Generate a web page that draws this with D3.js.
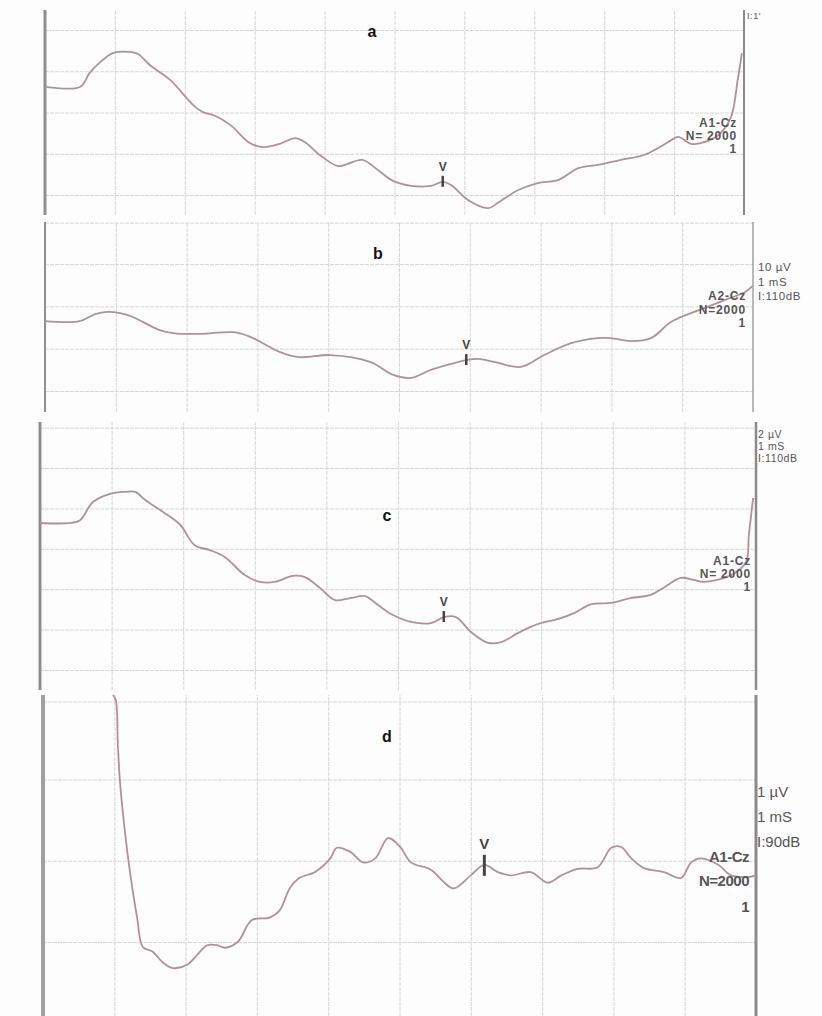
<!DOCTYPE html>
<html>
<head>
<meta charset="utf-8">
<script src="https://cdn.jsdelivr.net/npm/d3@7"></script>
<style>
body { margin: 0; background: #fff; }
text { font-family: "Liberation Sans", Arial, sans-serif; }
</style>
</head>
<body>
<div id="chart"></div>
<script>
// latency in ms, amplitude in grid divisions
const timeA = [0, 0.50, 0.64, 0.79, 0.97, 1.19, 1.33, 1.50, 1.79, 2.12, 2.26, 2.43, 2.65, 2.93, 3.12, 3.36, 3.58, 3.72, 3.93, 4.19, 4.32, 4.54, 4.76, 4.96, 5.24, 5.52, 5.69, 5.81, 6.05, 6.34, 6.48, 6.77, 7.05, 7.34, 7.63, 7.91, 8.24, 8.57, 8.77, 8.96, 9.06, 9.24, 9.38, 9.63, 9.81, 9.91, 9.97];
const ampA  = [2.62, 2.62, 2.96, 3.22, 3.44, 3.47, 3.42, 3.15, 2.79, 2.18, 2.01, 1.92, 1.70, 1.26, 1.16, 1.24, 1.38, 1.28, 0.97, 0.70, 0.75, 0.85, 0.61, 0.36, 0.22, 0.22, 0.32, 0.24, -0.12, -0.32, -0.19, 0.12, 0.29, 0.36, 0.65, 0.73, 0.85, 0.97, 1.14, 1.33, 1.41, 1.24, 1.26, 1.45, 1.87, 2.79, 3.44];

const timeB = [0, 0.49, 0.71, 0.88, 1.06, 1.24, 1.62, 1.81, 2.19, 2.66, 2.90, 3.32, 3.60, 4.03, 4.59, 4.92, 5.17, 5.45, 5.78, 5.95, 6.12, 6.34, 6.72, 7.05, 7.43, 7.81, 7.99, 8.28, 8.56, 8.84, 9.17, 9.31, 9.60, 9.89, 9.99];
const ampB  = [1.65, 1.65, 1.82, 1.87, 1.84, 1.75, 1.44, 1.37, 1.35, 1.39, 1.28, 0.92, 0.80, 0.85, 0.69, 0.38, 0.31, 0.50, 0.66, 0.73, 0.76, 0.69, 0.57, 0.85, 1.13, 1.25, 1.25, 1.18, 1.25, 1.63, 1.87, 1.96, 2.15, 2.34, 2.48];

const timeC = [0, 0.42, 0.56, 0.74, 0.98, 1.19, 1.33, 1.47, 1.72, 1.96, 2.16, 2.37, 2.58, 2.86, 3.07, 3.28, 3.53, 3.70, 3.91, 4.12, 4.33, 4.54, 4.72, 4.93, 5.18, 5.46, 5.64, 5.81, 6.02, 6.26, 6.44, 6.68, 6.96, 7.23, 7.46, 7.70, 7.97, 8.25, 8.53, 8.72, 8.95, 9.13, 9.27, 9.65, 9.86, 9.90, 9.96];
const ampC  = [3.64, 3.64, 3.71, 4.16, 4.36, 4.41, 4.41, 4.21, 3.91, 3.59, 3.09, 2.97, 2.80, 2.35, 2.18, 2.18, 2.33, 2.30, 2.03, 1.73, 1.78, 1.83, 1.61, 1.36, 1.19, 1.16, 1.31, 1.31, 0.94, 0.67, 0.69, 0.92, 1.14, 1.26, 1.41, 1.63, 1.66, 1.78, 1.86, 2.05, 2.28, 2.23, 2.18, 2.35, 2.67, 3.34, 4.26];

const timeD = [0.98, 1.02, 1.05, 1.08, 1.15, 1.22, 1.32, 1.40, 1.54, 1.68, 1.82, 2.02, 2.16, 2.30, 2.45, 2.55, 2.73, 2.93, 3.18, 3.32, 3.46, 3.60, 3.81, 4.03, 4.12, 4.31, 4.49, 4.66, 4.84, 5.01, 5.16, 5.44, 5.62, 5.76, 6.00, 6.19, 6.38, 6.56, 6.84, 7.08, 7.27, 7.50, 7.78, 7.97, 8.11, 8.25, 8.43, 8.71, 8.95, 9.09, 9.23, 9.47, 9.65, 9.89, 10.0];
const ampD  = [3.04, 2.98, 2.42, 1.97, 1.35, 0.86, 0.30, -0.06, -0.12, -0.25, -0.32, -0.28, -0.16, -0.04, -0.04, -0.07, 0.00, 0.27, 0.30, 0.39, 0.66, 0.79, 0.86, 1.03, 1.16, 1.11, 0.98, 1.03, 1.28, 1.17, 0.98, 0.89, 0.74, 0.66, 0.82, 0.95, 0.86, 0.82, 0.86, 0.73, 0.82, 0.90, 0.92, 1.16, 1.17, 1.03, 0.91, 0.86, 0.79, 0.98, 1.03, 0.95, 0.82, 0.80, 0.82];

// wave V latency (ms) per trace
const waveV = [5.69, 5.95, 5.64, 6.19];
const panelLetters = ['a', 'b', 'c', 'd'];
const montages = ['A1-Cz', 'A2-Cz', 'A1-Cz', 'A1-Cz'];
const sweeps = ['N= 2000', 'N=2000', 'N= 2000', 'N=2000'];
const gainLabels = [["I:1'"], ['10 µV', '1 mS', 'I:110dB'], ['2 µV', '1 mS', 'I:110dB'], ['1 µV', '1 mS', 'I:90dB']];
const timeTicks = [1, 2, 3, 4, 5, 6, 7, 8, 9];

const traces = [[timeA, ampA], [timeB, ampB], [timeC, ampC], [timeD, ampD]];

// where each scanned panel sits on the page
const layout = [
    { x0: 45, x1: 744, y0: 10, y1: 215, yDom: [-0.485, 4.485], grid: [0, 1, 2, 3, 4], letter: [372, 33],
      gainX: 747, gainY: [17], gainFs: 9, montX: 737, montY: [124, 137, 150], montFs: 12, leftW: 3, rightW: 2 },
    { x0: 45, x1: 753, y0: 222, y1: 412, yDom: [-0.496, 3.995], grid: [0, 1, 2, 3, 3.98], letter: [378, 255],
      gainX: 758, gainY: [268, 283, 297], gainFs: 11.5, montX: 746, montY: [297, 311, 324], montFs: 12, leftW: 2, rightW: 1.2 },
    { x0: 40, x1: 756, y0: 422, y1: 690, yDom: [-0.495, 6.14], grid: [0, 1, 2, 3, 4, 5, 6], letter: [387, 517],
      gainX: 758, gainY: [435, 447, 459], gainFs: 10.5, montX: 751, montY: [562, 575, 588], montFs: 12, leftW: 3, rightW: 2.5 },
    { x0: 43, x1: 756, y0: 695, y1: 1016, yDom: [-0.91, 3.04], grid: [0, 1, 2, 2.96], letter: [387, 738],
      gainX: 757, gainY: [793, 818, 843], gainFs: 15, montX: 749, montY: [858, 882, 908], montFs: 15, leftW: 4, rightW: 3 }
];

const svg = d3.select('#chart').append('svg')
    .attr('width', 822)
    .attr('height', 1016);
svg.append('rect').attr('width', 822).attr('height', 1016).attr('fill', '#fdfdfd');

layout.forEach((p, i) => {
    const x = d3.scaleLinear().domain([0, 10]).range([p.x0, p.x1]);
    const y = d3.scaleLinear().domain(p.yDom).range([p.y1, p.y0]);
    const g = svg.append('g');
    const big = i === 3;

    // grid
    const gx = g.append('g')
        .attr('transform', `translate(0,${p.y1})`)
        .call(d3.axisBottom(x).tickValues(timeTicks).tickSize(-(p.y1 - p.y0)).tickFormat(''));
    const gy = g.append('g')
        .attr('transform', `translate(${p.x0},0)`)
        .call(d3.axisLeft(y).tickValues(p.grid).tickSize(-(p.x1 - p.x0)).tickFormat(''));
    [gx, gy].forEach(a => {
        a.select('.domain').remove();
        a.selectAll('line').attr('stroke', '#d6d6d6').attr('stroke-width', 1).attr('stroke-dasharray', '4,1');
    });

    // left / right frame lines
    g.append('line')
        .attr('x1', x(0)).attr('x2', x(0)).attr('y1', p.y0).attr('y2', p.y1)
        .attr('stroke', big ? '#a0a0a0' : '#8f8f8f').attr('stroke-width', p.leftW);
    g.append('line')
        .attr('x1', x(10)).attr('x2', x(10)).attr('y1', p.y0).attr('y2', p.y1)
        .attr('stroke', '#8a8a8a').attr('stroke-width', p.rightW);

    // the trace
    const [ts, vs] = traces[i];
    const pts = ts.map((t, k) => [t, vs[k]]);
    g.append('path')
        .datum(pts)
        .attr('fill', 'none')
        .attr('stroke', '#b09296')
        .attr('stroke-width', 1.8)
        .attr('d', d3.line().x(d => x(d[0])).y(d => y(d[1])).curve(d3.curveCatmullRom));

    // wave V marker
    const lat = waveV[i];
    const k = d3.minIndex(ts, t => Math.abs(t - lat));
    const vy = y(vs[k]);
    g.append('line')
        .attr('x1', x(lat)).attr('x2', x(lat))
        .attr('y1', vy - (big ? 10 : 6)).attr('y2', vy + (big ? 11 : 5))
        .attr('stroke', '#444').attr('stroke-width', big ? 3 : 2.5);
    g.append('text')
        .attr('x', x(lat)).attr('y', vy - (big ? 20 : 14))
        .attr('text-anchor', 'middle').attr('dominant-baseline', 'middle')
        .attr('font-size', big ? 15 : 12).attr('font-weight', 'bold').attr('fill', '#444')
        .text('V');

    // panel letter
    g.append('text')
        .attr('x', p.letter[0]).attr('y', p.letter[1])
        .attr('text-anchor', 'middle').attr('dominant-baseline', 'middle')
        .attr('font-size', 16).attr('font-weight', 'bold')
        .attr('font-family', i === 2 ? '"Liberation Serif", serif' : null)
        .attr('fill', '#111')
        .text(panelLetters[i]);

    // recording settings
    gainLabels[i].forEach((s, j) => {
        g.append('text')
            .attr('x', p.gainX).attr('y', p.gainY[j])
            .attr('dominant-baseline', 'middle')
            .attr('font-size', p.gainFs).attr('fill', '#555')
            .attr('letter-spacing', big ? 0 : 0.6)
            .text(s);
    });
    [montages[i], sweeps[i], '1'].forEach((s, j) => {
        g.append('text')
            .attr('x', p.montX).attr('y', p.montY[j])
            .attr('text-anchor', 'end').attr('dominant-baseline', 'middle')
            .attr('font-size', p.montFs).attr('fill', '#555')
            .attr('letter-spacing', big ? -0.5 : 0.8)
            .attr('font-weight', 'bold')
            .text(s);
    });
});
</script>
</body>
</html>
